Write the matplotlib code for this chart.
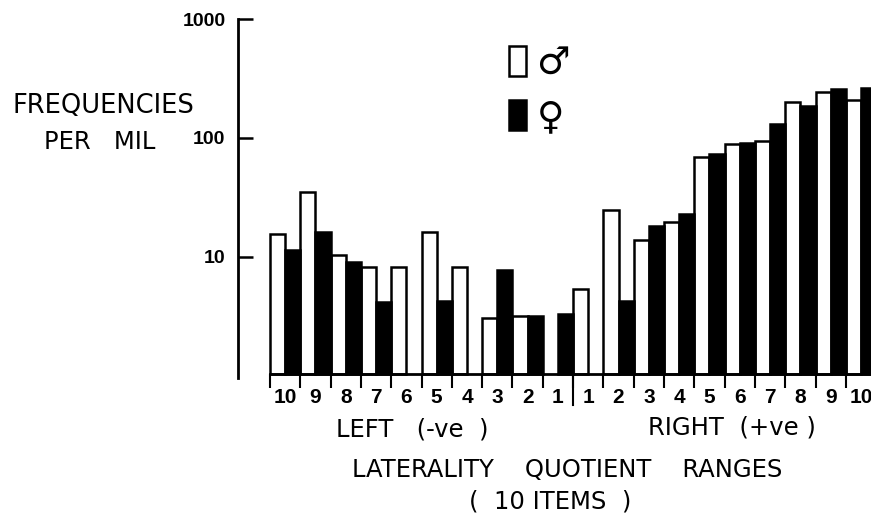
#!/usr/bin/env python3
"""Laterality quotient frequencies per mil, males and females."""

import matplotlib

matplotlib.use("Agg")

import matplotlib.pyplot as plt
import numpy as np

W, H = 871, 516

RANGE_LABELS = ["10", "9", "8", "7", "6", "5", "4", "3", "2", "1",
                "1", "2", "3", "4", "5", "6", "7", "8", "9", "10"]
MALE = [15.6, 35.2, 10.4, 8.2, 8.2, 16.2, 8.2, 3.1, 3.2, np.nan,
        5.4, 24.8, 13.9, 19.7, 69, 89, 94, 201, 244, 208]
FEMALE = [11.5, 16.2, 9.1, 4.2, np.nan, 4.3, np.nan, 7.8, 3.2, 3.3,
          np.nan, 4.3, 18.2, 23, 73, 91, 131, 186, 258, 263]
Y_TICKS = [10, 100, 1000]

BASE = 1.04  # x axis sits a little above the foot of the y axis
NARROW = ["Liberation Sans Narrow", "Liberation Sans"]


def px_text(fig, x, y, s, size=17.5):
    # x, y in reference pixels, y from the top
    fig.text(x / W, 1 - y / H, s, ha="center", va="center", color="black", fontsize=size)


fig = plt.figure(figsize=(W / 100, H / 100), dpi=100)
ax = fig.add_axes([238 / W, 1 - 378 / H, (W - 238) / W, (378 - 19) / H])
ax.set_yscale("log")
ax.set_ylim(0.962, 1000)
ax.set_xlim(-1.056, 19.83)

x = np.arange(len(RANGE_LABELS))
male = np.array(MALE)
female = np.array(FEMALE)
ax.bar(x + 0.25, male - BASE, 0.5, bottom=BASE, color="white", edgecolor="black",
       linewidth=1.8, label="\u2642")
ax.bar(x + 0.75, female - BASE, 0.5, bottom=BASE, color="black", edgecolor="black",
       linewidth=1.8, label="\u2640")

for side in ("top", "right"):
    ax.spines[side].set_visible(False)
ax.spines["left"].set_linewidth(2)
ax.spines["bottom"].set_position(("data", BASE))
ax.spines["bottom"].set_bounds(0, 19.83)
ax.spines["bottom"].set_linewidth(2)

ax.set_yticks(Y_TICKS)
ax.set_yticklabels([str(v) for v in Y_TICKS], family=NARROW, fontweight="bold", fontsize=14)
ax.minorticks_off()
ax.tick_params(axis="y", which="major", direction="in", length=11, width=1.8, pad=9)

ax.set_xticks(np.arange(0, 20))
ax.set_xticklabels([])
ax.set_xticks(x + 0.5, minor=True)
ax.set_xticklabels(RANGE_LABELS, minor=True, family=NARROW, fontweight="bold", fontsize=15)
ax.tick_params(axis="x", which="major", direction="out", length=10, width=1.5)
ax.tick_params(axis="x", which="minor", length=0, pad=10)
# longer mark between left and right halves
ax.plot([10, 10], [BASE, 0.57], color="black", lw=1.5, clip_on=False)

ax.legend(loc="upper left", bbox_to_anchor=(509 / W, 1 - 46 / H), bbox_transform=fig.transFigure,
          frameon=False, fontsize=27, handlelength=0.45, handleheight=0.85,
          handletextpad=0.28, labelspacing=0.48, borderpad=0, borderaxespad=0)

px_text(fig, 103, 106, "FREQUENCIES", size=18.5)
px_text(fig, 100, 142, "PER   MIL")
px_text(fig, 412, 429, "LEFT   (-ve  )")
px_text(fig, 732, 427, "RIGHT  (+ve )")
px_text(fig, 567, 470, "LATERALITY    QUOTIENT    RANGES")
px_text(fig, 550, 502, "(  10 ITEMS  )")

fig.savefig("out.png", dpi=100)
